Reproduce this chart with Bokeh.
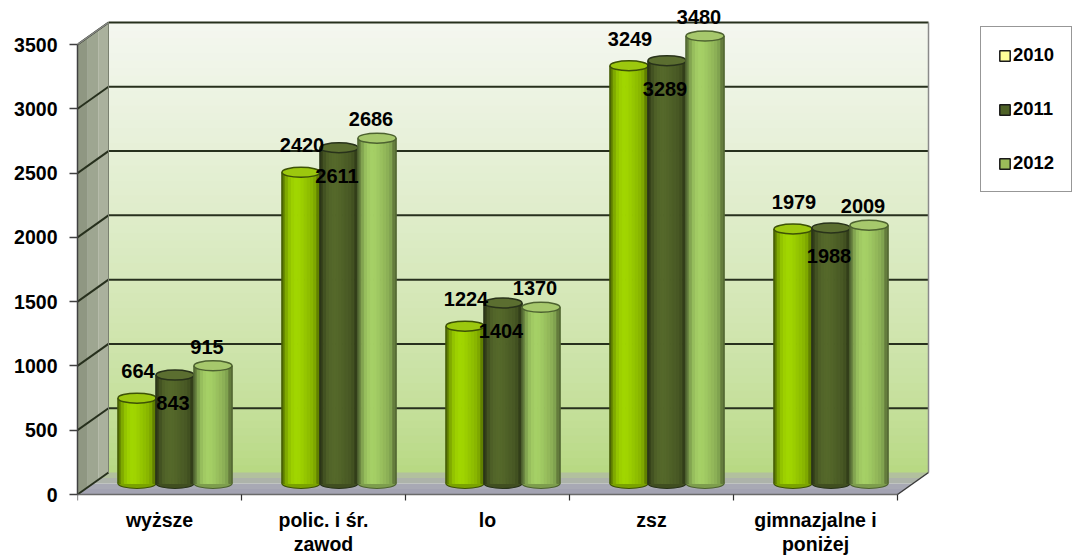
from bokeh.plotting import figure
from bokeh.models import Range1d, FixedTicker, Legend, LegendItem, ColumnDataSource
from bokeh.embed import file_html
from bokeh.resources import INLINE
from bokeh.core.properties import value

# ---- data -------------------------------------------------------------
categories = ["wyższe", "polic. i śr.\nzawod", "lo", "zsz", "gimnazjalne i\nponiżej"]
years = ["2010", "2011", "2012"]
v2010 = [664, 2420, 1224, 3249, 1979]
v2011 = [843, 2611, 1404, 3289, 1988]
v2012 = [915, 2686, 1370, 3480, 2009]
y_ticks = [0, 500, 1000, 1500, 2000, 2500, 3000, 3500]

# ---- geometry of the pseudo-3D box -----------------------------------
W, H = 1074, 556
LEFT_PX = 77            # frame starts at the value axis
ZERO_PX = 62            # distance of the zero line from the bottom edge
CAT_PX = 164            # width of one category on the front plane
UNIT_PX = 450 / 3500    # pixels per value unit
DX = 31 / CAT_PX        # depth offset, x
DY = 22 / UNIT_PX       # depth offset, y
YMAX = y_ticks[-1]
NCAT = len(categories)
BW = 38 / CAT_PX        # width of one cylinder
EH = 10 / UNIT_PX       # height of cylinder caps

FONT = value("Liberation Sans")

p = figure(width=W, height=H,
           x_range=Range1d(0, (W - LEFT_PX) / CAT_PX),
           y_range=Range1d(-ZERO_PX / UNIT_PX, (H - ZERO_PX) / UNIT_PX),
           x_axis_location=None, y_axis_location="left",
           output_backend="svg", toolbar_location=None,
           min_border_left=LEFT_PX, min_border_right=0,
           min_border_top=0, min_border_bottom=0,
           outline_line_color=None, background_fill_color="white",
           border_fill_color="white")
p.grid.visible = False

ax = p.yaxis[0]
ax.ticker = FixedTicker(ticks=y_ticks, minor_ticks=[])
ax.bounds = (0, YMAX)
ax.axis_line_color = "#404040"
ax.axis_line_width = 1.5
ax.major_tick_out = 8
ax.major_tick_in = 0
ax.major_tick_line_color = "#404040"
ax.major_tick_line_width = 1.5
ax.major_label_standoff = 12
ax.major_label_text_font = "Liberation Sans"
ax.major_label_text_font_style = "bold"
ax.major_label_text_font_size = "19.5px"
ax.major_label_text_color = "black"


def mix(c1, c2, t):
    return "#%02x%02x%02x" % tuple(int(round(a + (b - a) * t)) for a, b in zip(c1, c2))


def scale(c, f):
    return "#%02x%02x%02x" % tuple(max(0, min(255, int(round(a * f)))) for a in c)


# ---- back wall with vertical gradient ---------------------------------
wall_bottom = (182, 216, 128)
wall_top = (244, 247, 240)
nb = 60
band = YMAX / nb
wall = dict(left=[], right=[], bottom=[], top=[], color=[])
for k in range(nb):
    t = (k + 0.5) / nb
    wall["left"].append(DX)
    wall["right"].append(NCAT + DX)
    wall["bottom"].append(DY + k * band)
    wall["top"].append(DY + (k + 1) * band + 1)
    wall["color"].append(mix(wall_bottom, wall_top, t ** 0.75))
p.quad(left="left", right="right", bottom="bottom", top="top", color="color",
       source=ColumnDataSource(wall))

# ---- left side wall ---------------------------------------------------
side_cols = ["#8f9782", "#9ea691", "#aab19d"]
sx, sy = [], []
for k in range(3):
    a, b = k / 3 * DX, (k + 1) / 3 * DX
    sx.append([a, a, b, b])
    sy.append([a / DX * DY, YMAX + a / DX * DY, YMAX + b / DX * DY, b / DX * DY])
p.patches(sx, sy, fill_color=side_cols, line_color=None)

# ---- floor --------------------------------------------------------------
floor_cols = ["#a3a3b2", "#a8a9b4", "#adb3aa", "#b2c09e"]
fx, fy = [], []
nf = len(floor_cols)
for k in range(nf):
    t0, t1 = k / nf, (k + 1) / nf
    fx.append([t0 * DX, NCAT + t0 * DX, NCAT + t1 * DX, t1 * DX])
    fy.append([t0 * DY, t0 * DY, t1 * DY, t1 * DY])
p.patches(fx, fy, fill_color=floor_cols, line_color=None)

# ---- gridlines on the walls --------------------------------------------
grid_col = "#27301d"
p.segment(x0=[DX] * (len(y_ticks) - 1), y0=[v + DY for v in y_ticks[1:]],
          x1=[NCAT + DX] * (len(y_ticks) - 1), y1=[v + DY for v in y_ticks[1:]],
          line_color=grid_col, line_width=2)
p.segment(x0=[0] * len(y_ticks), y0=y_ticks,
          x1=[DX] * len(y_ticks), y1=[v + DY for v in y_ticks],
          line_color=grid_col, line_width=2)

# box edges
p.line([0, NCAT], [0, 0], line_color="#6a6a6a", line_width=1.5)
p.line([NCAT, NCAT + DX], [0, DY], line_color="#3a3a3a", line_width=1.5)
p.line([NCAT + DX, NCAT + DX], [DY, YMAX + DY], line_color="#8a8a8a", line_width=1.5)
p.line([0, DX], [YMAX, YMAX + DY], line_color="#8a8a8a", line_width=1.5)
p.line([DX, DX], [DY, YMAX + DY], line_color="#7a8070", line_width=1)

# category separators below the floor
p.segment(x0=list(range(NCAT + 1)), y0=[0] * (NCAT + 1),
          x1=list(range(NCAT + 1)), y1=[-6 / UNIT_PX] * (NCAT + 1),
          line_color="#303030", line_width=1.2)

# ---- cylinders ---------------------------------------------------------
series = [v2010, v2011, v2012]
base_rgb = [(152, 202, 0), (80, 98, 40), (156, 196, 96)]
cap_cols = ["#9cc80e", "#5b6e30", "#a6c86c"]
edge_cols = ["#3d5206", "#28321a", "#4d6230"]
shade = [0.62, 0.84, 0.97, 1.03, 1.06, 1.05, 1.02, 0.98, 0.94, 0.90, 0.83, 0.64]
ns = len(shade)
base_y = DY / 2

for s, vals in enumerate(series):
    xs = [i + 0.5 + DX / 2 + (s - 1) * BW for i in range(NCAT)]
    tops = [v + DY / 2 for v in vals]
    # rounded bottom
    p.ellipse(x=xs, y=[base_y] * NCAT, width=BW, height=EH,
              fill_color=scale(base_rgb[s], 0.8), line_color=edge_cols[s], line_width=1.2)
    body = dict(left=[], right=[], top=[], bottom=[], color=[])
    for x, t in zip(xs, tops):
        for k, f in enumerate(shade):
            body["left"].append(x - BW / 2 + k * BW / ns)
            body["right"].append(x - BW / 2 + (k + 1) * BW / ns + 0.0005)
            body["top"].append(t)
            body["bottom"].append(base_y)
            body["color"].append(scale(base_rgb[s], f))
    p.quad(left="left", right="right", top="top", bottom="bottom", color="color",
           source=ColumnDataSource(body))
    p.segment(x0=[x - BW / 2 for x in xs], y0=[base_y] * NCAT,
              x1=[x - BW / 2 for x in xs], y1=tops, line_color=edge_cols[s], line_width=1.2)
    p.segment(x0=[x + BW / 2 for x in xs], y0=[base_y] * NCAT,
              x1=[x + BW / 2 for x in xs], y1=tops, line_color=edge_cols[s], line_width=1.2)
    p.ellipse(x=xs, y=tops, width=BW, height=EH,
              fill_color=cap_cols[s], line_color=edge_cols[s], line_width=1.5)

# ---- value labels -------------------------------------------------------
label_off = [(1, -27), (-2, 28), (-6, -19)]
for s, vals in enumerate(series):
    xs = [i + 0.5 + DX / 2 + (s - 1) * BW for i in range(NCAT)]
    p.text(x=xs, y=[v + DY / 2 for v in vals], text=[str(v) for v in vals],
           x_offset=label_off[s][0], y_offset=label_off[s][1],
           text_align="center", text_baseline="middle",
           text_font=FONT, text_font_style="bold", text_font_size="20px",
           text_color="black")

# ---- category labels ----------------------------------------------------
p.text(x=[i + 0.5 for i in range(NCAT)], y=[-14 / UNIT_PX] * NCAT, text=categories,
       text_align="center", text_baseline="top", text_line_height=1.12,
       text_font=FONT, text_font_style="bold", text_font_size="19.5px",
       text_color="black")

# ---- legend -------------------------------------------------------------
# swatches come from off-frame proxy renderers
legend_cols = ["#ffff99", "#4f6228", "#9bbb59"]
items = []
for yr, col in zip(years, legend_cols):
    r = p.quad(left=[-9], right=[-8], top=[-9000], bottom=[-9500], fill_color=col,
               line_color="#1a1a1a", line_width=1.5)
    items.append(LegendItem(label=yr, renderers=[r]))
legend = Legend(items=items, location=(903, 364), orientation="vertical",
                glyph_width=13, glyph_height=13, label_height=20,
                label_standoff=2, spacing=32, padding=17, margin=0,
                label_text_font="Liberation Sans", label_text_font_style="bold",
                label_text_font_size="18.5px", label_text_color="black",
                border_line_color="#303030", border_line_width=1,
                background_fill_color="white", background_fill_alpha=1)
p.add_layout(legend)

open("out.html", "w").write(file_html(p, INLINE))
